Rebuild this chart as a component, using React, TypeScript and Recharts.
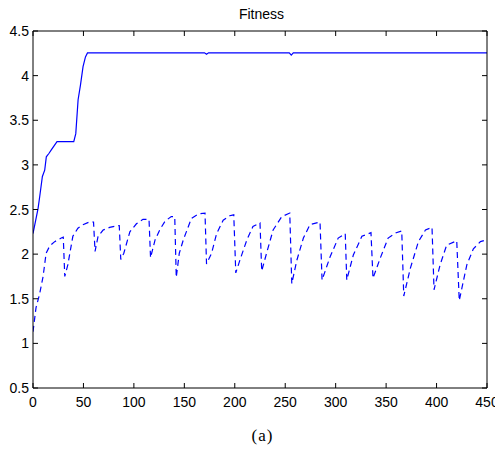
import React from "react";
import { LineChart, Line, XAxis, YAxis } from "recharts";

const xTicks = [0, 50, 100, 150, 200, 250, 300, 350, 400, 450];
const yTicks = [0.5, 1, 1.5, 2, 2.5, 3, 3.5, 4, 4.5];

const solidX = [0, 2.7, 5, 6.6, 9.3, 11.6, 13.2, 15.9, 18.3, 23.8, 40.4, 42.4, 44.7, 47, 49.6, 52, 54, 170, 172, 174, 254, 256, 258, 450];
const solidY = [2.23, 2.38, 2.51, 2.64, 2.87, 2.94, 3.09, 3.13, 3.17, 3.26, 3.26, 3.35, 3.73, 3.89, 4.1, 4.21, 4.255, 4.255, 4.24, 4.255, 4.255, 4.23, 4.255, 4.255];

const dashX = [0, 3, 6.5, 10, 13, 16.5, 21.5, 28, 30, 31.5, 34.5, 39.5, 44.5, 49.5, 56, 60, 61.5, 64.5, 69.5, 76, 84, 85.5, 87, 90, 96, 102.5, 109, 115, 116.5, 121, 126, 131, 137, 140.5, 142, 145, 149, 157, 164, 170.5, 172, 177, 182, 188.5, 195, 199, 201, 205, 212, 218, 225, 226.7, 231.5, 238, 246.5, 254.5, 256.5, 261.5, 268, 274.5, 284.5, 286.5, 294.5, 302.5, 309.5, 311, 317.5, 326, 335, 337, 344, 352, 360, 365.5, 367.5, 374, 382, 389, 395.5, 397.5, 403.5, 410, 420, 422.5, 430, 436.5, 443.5, 450];
const dashY = [1.13, 1.4, 1.55, 1.75, 2.01, 2.09, 2.14, 2.18, 2.19, 1.75, 1.88, 2.2, 2.29, 2.33, 2.36, 2.36, 2.03, 2.2, 2.27, 2.3, 2.32, 2.32, 1.94, 2.01, 2.25, 2.34, 2.39, 2.39, 1.96, 2.16, 2.28, 2.37, 2.42, 2.42, 1.74, 2.01, 2.16, 2.4, 2.45, 2.46, 1.89, 2.01, 2.23, 2.38, 2.43, 2.44, 1.79, 1.93, 2.16, 2.31, 2.35, 1.81, 2.01, 2.27, 2.42, 2.46, 1.67, 1.93, 2.18, 2.33, 2.36, 1.71, 1.97, 2.18, 2.23, 1.71, 1.99, 2.2, 2.24, 1.73, 1.95, 2.18, 2.24, 2.26, 1.53, 1.84, 2.14, 2.27, 2.3, 1.6, 1.88, 2.1, 2.15, 1.48, 1.88, 2.06, 2.14, 2.16];

const solidData = solidX.map((x, i) => ({ x, y: solidY[i] }));
const dashData = dashX.map((x, i) => ({ x, y: dashY[i] }));

const FONT = "'Liberation Sans', Arial, sans-serif";
const TL = 5;

const BottomTick = (p: any) => (
  <g>
    <line x1={p.x} y1={p.y} x2={p.x} y2={p.y - TL} stroke="#000" />
    <text x={p.x} y={p.y + 19} textAnchor="middle" fontSize={14} fontFamily={FONT} fill="#000">
      {p.payload.value}
    </text>
  </g>
);
const TopTick = (p: any) => (
  <line x1={p.x} y1={p.y} x2={p.x} y2={p.y + TL} stroke="#000" />
);
const LeftTick = (p: any) => (
  <g>
    <line x1={p.x} y1={p.y} x2={p.x + TL} y2={p.y} stroke="#000" />
    <text x={p.x - 4} y={p.y + 5} textAnchor="end" fontSize={14} fontFamily={FONT} fill="#000">
      {p.payload.value}
    </text>
  </g>
);
const RightTick = (p: any) => (
  <line x1={p.x} y1={p.y} x2={p.x - TL} y2={p.y} stroke="#000" />
);

export default function App() {
  return (
    <div style={{ position: "relative", width: 495, height: 437 }}>
      <LineChart
        width={495}
        height={437}
        margin={{ top: 22, right: 15, left: 0, bottom: 37 }}
        style={{ overflow: "visible" }}
      >
        <XAxis
          xAxisId="b"
          dataKey="x"
          type="number"
          domain={[0, 450]}
          ticks={xTicks}
          interval={0}
          tickSize={0}
          tickMargin={0}
          tickLine={false}
          height={20}
          axisLine={{ stroke: "#000" }}
          tick={<BottomTick />}
          allowDataOverflow
        />
        <XAxis
          xAxisId="t"
          orientation="top"
          dataKey="x"
          type="number"
          domain={[0, 450]}
          ticks={xTicks}
          interval={0}
          tickSize={0}
          tickMargin={0}
          tickLine={false}
          height={1}
          axisLine={{ stroke: "#000" }}
          tick={<TopTick />}
          allowDataOverflow
        />
        <YAxis
          yAxisId="l"
          type="number"
          domain={[0.5, 4.5]}
          ticks={yTicks}
          interval={0}
          tickSize={0}
          tickMargin={0}
          tickLine={false}
          width={25}
          axisLine={{ stroke: "#000" }}
          tick={<LeftTick />}
          allowDataOverflow
        />
        <YAxis
          yAxisId="r"
          orientation="right"
          type="number"
          domain={[0.5, 4.5]}
          ticks={yTicks}
          interval={0}
          tickSize={0}
          tickMargin={0}
          tickLine={false}
          width={1}
          axisLine={{ stroke: "#000" }}
          tick={<RightTick />}
          allowDataOverflow
        />
        <Line
          xAxisId="b"
          yAxisId="l"
          data={solidData}
          dataKey="y"
          type="linear"
          stroke="#0000ff"
          strokeWidth={1.2}
          dot={false}
          activeDot={false}
          isAnimationActive={false}
        />
        <Line
          xAxisId="b"
          yAxisId="l"
          data={dashData}
          dataKey="y"
          type="linear"
          stroke="#0000ff"
          strokeWidth={1.2}
          strokeDasharray="6 4"
          dot={false}
          activeDot={false}
          isAnimationActive={false}
        />
      </LineChart>
      <div
        style={{
          position: "absolute",
          left: 0,
          width: 495,
          top: -2,
          paddingLeft: 12,
          boxSizing: "border-box",
          textAlign: "center",
          fontFamily: FONT,
          fontSize: 14,
          lineHeight: "16px",
          color: "#000",
          zIndex: 2,
        }}
      >
        Fitness
      </div>
      <div
        style={{
          position: "absolute",
          left: 0,
          width: 495,
          paddingLeft: 14,
          boxSizing: "border-box",
          top: 419,
          textAlign: "center",
          fontFamily: "'Liberation Serif', 'Times New Roman', serif",
          fontSize: 17,
          letterSpacing: 1,
          lineHeight: "18px",
          color: "#000",
          zIndex: 2,
        }}
      >
        (a)
      </div>
    </div>
  );
}
